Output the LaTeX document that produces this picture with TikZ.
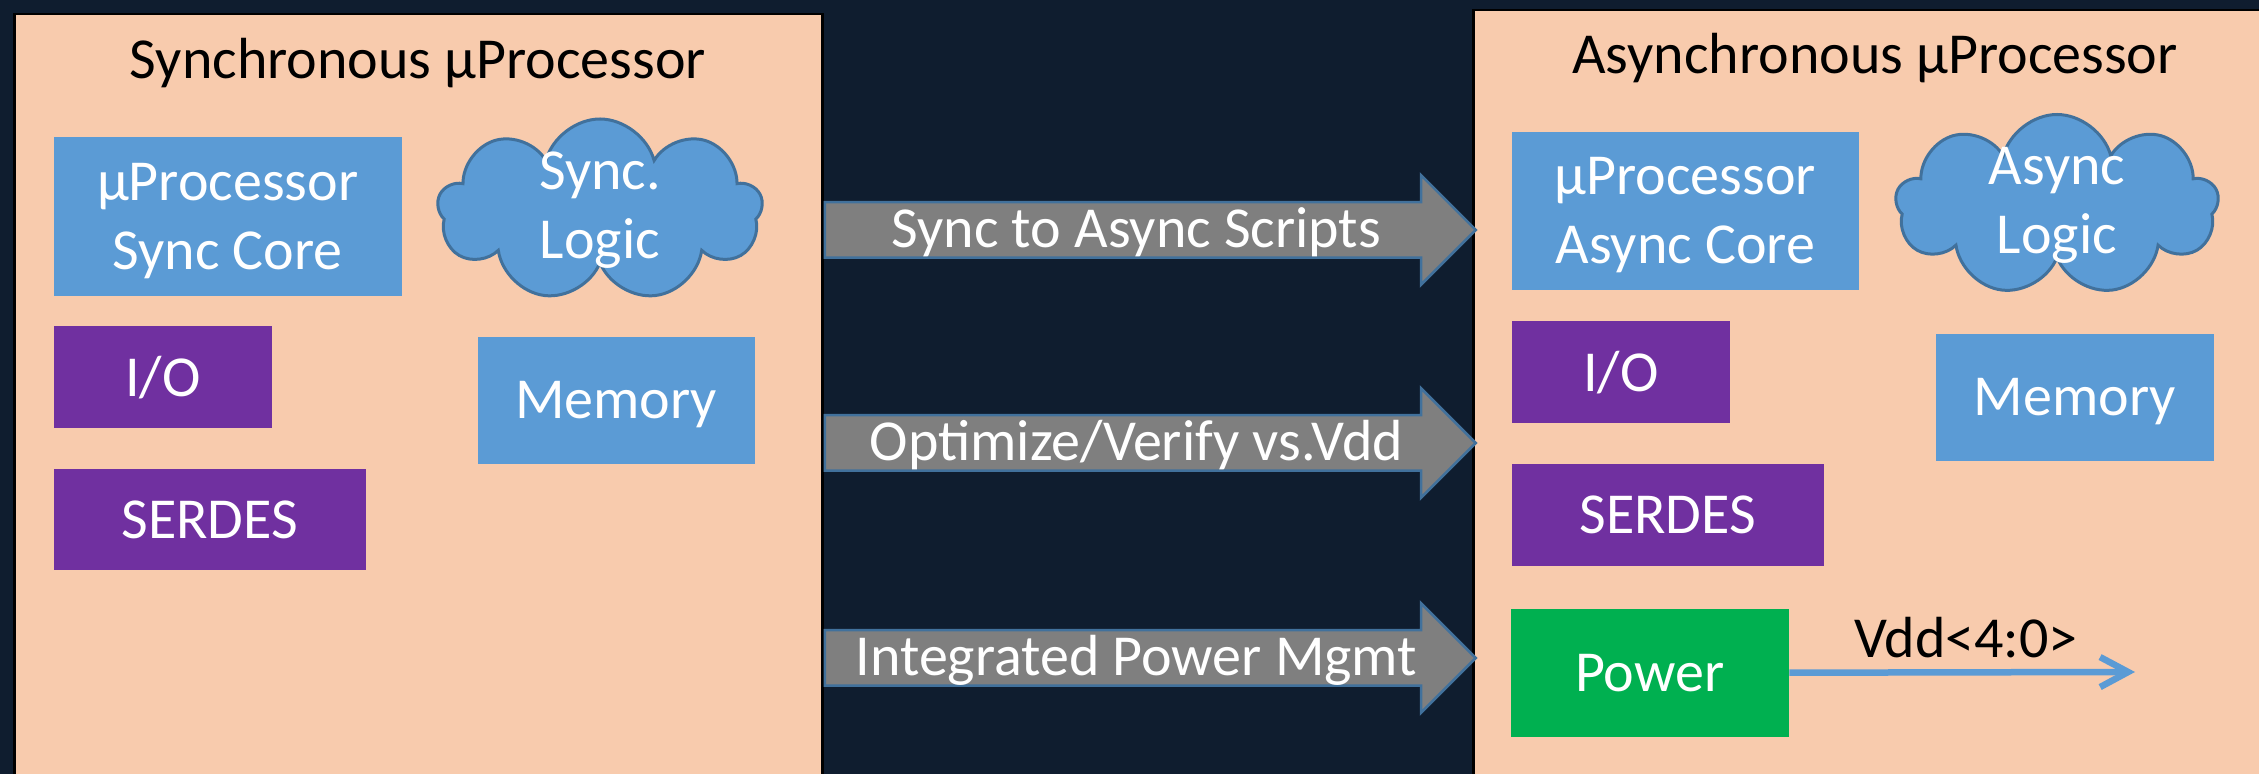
\documentclass[tikz,border=0pt]{standalone}
\usepackage{fontspec}
\setmainfont{Carlito}
\usetikzlibrary{shapes.symbols,shapes.arrows,arrows.meta}

\definecolor{navy}{HTML}{0F1D2F}
\definecolor{peach}{HTML}{F8CBAD}
\definecolor{blockblue}{HTML}{5B9BD5}
\definecolor{blockpurple}{HTML}{7030A0}
\definecolor{blockgreen}{HTML}{00B050}
\definecolor{edgeblue}{HTML}{41719C}
\definecolor{flowgray}{HTML}{7F7F7F}

\tikzset{
  panel/.style={draw=black,line width=0.25mm,fill=peach,anchor=north west,inner sep=0pt},
  title/.style={anchor=base,text=black},
  blk/.style={fill=#1,text=white,anchor=north west,inner sep=0pt,align=center,text depth=0pt},
  logic/.style={cloud,cloud puffs=9,cloud ignores aspect,draw=edgeblue,line width=0.3mm,
    fill=blockblue,text=white,align=center,inner xsep=0pt,inner ysep=-2.5mm},
  flow/.style={single arrow,draw=edgeblue,fill=flowgray,line width=0.25mm,text=white,
    single arrow head extend=2.7mm,minimum height=65.1mm,inner xsep=0pt,inner ysep=0pt,
    text height=4.4mm,text depth=0.9mm,anchor=tail},
  vdd/.style={draw=blockblue,line width=0.65mm,-{Straight Barb[length=2.8mm,width=3mm]}}
}

\begin{document}
\begin{tikzpicture}[x=0.1mm,y=-0.1mm,font=\fontsize{16.5}{19.6}\selectfont]
  \useasboundingbox (0,0) rectangle (2259,774);
  \clip (0,0) rectangle (2259,774);
  \fill[navy] (0,0) rectangle (2259,774);

 % the two chips
  \node[panel,minimum width=80.8mm,minimum height=80mm] (sync) at (13,13) {};
  \node[panel,minimum width=80mm,minimum height=80mm] (async) at (1472,9) {};

  \node[title] (synctitle) at (418,79) {Synchronous µProcessor};
  \node[blk=blockblue,minimum width=34.8mm,minimum height=15.9mm] (score) at (53,136) {µProcessor\\Sync Core};
  \node[logic,minimum width=32.5mm,minimum height=18.2mm] (slogic) at (600,210) {Sync.\\Logic};
  \node[blk=blockpurple,minimum width=21.8mm,minimum height=10.2mm] (sio) at (53,325) {I/O};
  \node[blk=blockblue,minimum width=27.7mm,minimum height=12.7mm] (smem) at (477,336) {Memory};
  \node[blk=blockpurple,minimum width=31.2mm,minimum height=10.1mm] (sserdes) at (53,468) {SERDES};

  \node[title] (asynctitle) at (1875,74) {Asynchronous µProcessor};
  \node[blk=blockblue,minimum width=34.7mm,minimum height=15.8mm] (acore) at (1511,131) {µProcessor\\Async Core};
  \node[logic,minimum width=32.3mm,minimum height=18.1mm] (alogic) at (2057,205) {Async\\Logic};
  \node[blk=blockpurple,minimum width=21.8mm,minimum height=10.2mm] (aio) at (1511,320) {I/O};
  \node[blk=blockblue,minimum width=27.8mm,minimum height=12.7mm] (amem) at (1935,333) {Memory};
  \node[blk=blockpurple,minimum width=31.2mm,minimum height=10.2mm] (aserdes) at (1511,463) {SERDES};
  \node[blk=blockgreen,minimum width=27.8mm,minimum height=12.8mm] (apower) at (1510,608) {Power};

 % conversion steps
  \node[flow] (step1) at (sync.east |- 0,230) {Sync to Async Scripts};
  \node[flow] (step2) at (sync.east |- 0,443) {Optimize/Verify vs.Vdd};
  \node[flow] (step3) at (sync.east |- 0,658) {Integrated Power Mgmt};

  \coordinate (vddend) at (2135,672);
  \draw[vdd] (apower.east) -- (vddend);
  \node[title] (vddlabel) at (1966,658) {Vdd<4:0>};
\end{tikzpicture}
\end{document}
